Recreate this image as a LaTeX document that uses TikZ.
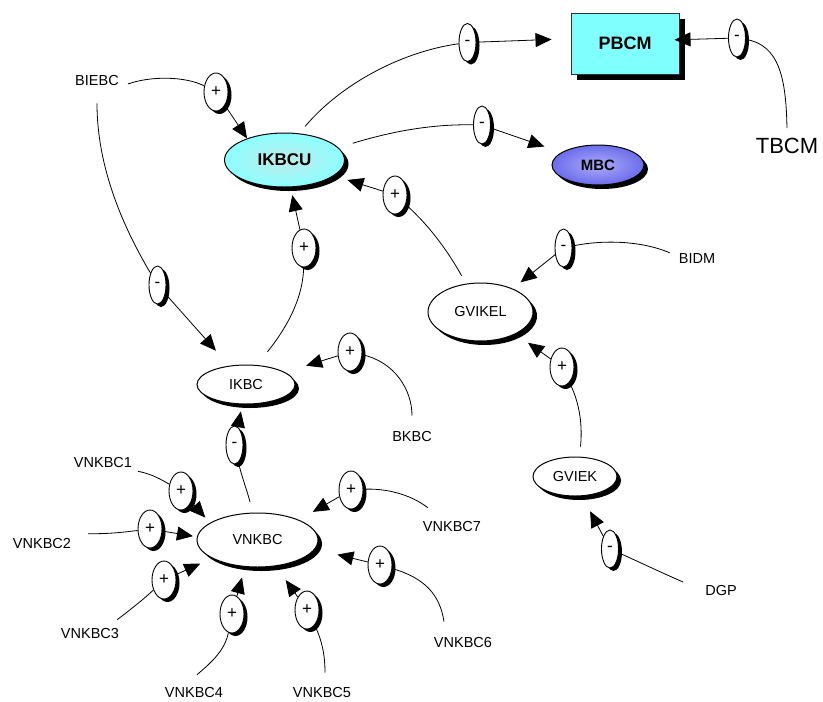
\documentclass[tikz,border=0pt]{standalone}
\usepackage{fontspec}
\setmainfont{Liberation Sans}
\usetikzlibrary{shapes.geometric,shadows,arrows.meta}

\definecolor{boxcyan}{RGB}{128,255,255}
\definecolor{cyanin}{RGB}{190,234,234}
\definecolor{cyanout}{RGB}{140,255,255}
\definecolor{bluein}{RGB}{172,172,248}
\definecolor{blueout}{RGB}{108,108,236}

\begin{document}
\begin{tikzpicture}[x=1pt,y=-1pt,
  lbl/.style={inner sep=3pt,font=\fontsize{14.5}{17}\selectfont},
  conn/.style={line width=0.8pt},
  arr/.style={line width=0.8pt,-{Triangle[length=16pt,width=14pt]}},
  sgn/.style={ellipse,draw,line width=0.9pt,fill=white,inner sep=0pt,
    minimum height=38pt,font=\fontsize{17}{19}\selectfont,
    drop shadow={shadow xshift=3.5pt,shadow yshift=-3pt,fill=black,opacity=1}},
  possign/.style={sgn,minimum width=24pt},
  negsign/.style={sgn,minimum width=17pt},
  varnode/.style={ellipse,draw,line width=1pt,fill=white,inner sep=0pt,
    font=\fontsize{14.5}{17}\selectfont,
    drop shadow={shadow xshift=4pt,shadow yshift=-4pt,fill=black,opacity=1}},
  box/.style={rectangle,draw=black!80,line width=1pt,fill=boxcyan,
    minimum width=108pt,minimum height=61pt,
    font=\fontsize{18}{21}\selectfont\bfseries,
    drop shadow={shadow xshift=6pt,shadow yshift=-6pt,fill=black,opacity=1}},
]
\fill[white] (0,0) rectangle (823,702);
\useasboundingbox (0,0) rectangle (823,702);

% variables
\node[box] (PBCM) at (625,43.5) {PBCM};
\node[varnode,minimum width=120pt,minimum height=54pt,shade,
  inner color=cyanin,outer color=cyanout,
  font=\fontsize{17}{20}\selectfont\bfseries] (IKBCU) at (284.5,160) {IKBCU};
\node[varnode,minimum width=92pt,minimum height=40pt,shade,
  inner color=bluein,outer color=blueout,
  font=\fontsize{15}{18}\selectfont\bfseries] (MBC) at (598,165) {MBC};
\node[varnode,minimum width=105pt,minimum height=58pt] (GVIKEL) at (480.5,312) {GVIKEL};
\node[varnode,minimum width=84pt,minimum height=39pt] (GVIEK) at (575,476.5) {GVIEK};
\node[varnode,minimum width=98pt,minimum height=39pt] (IKBC) at (246,384.5) {IKBC};
\node[varnode,minimum width=121pt,minimum height=54pt] (VNKBC) at (257.5,540) {VNKBC};

% exogenous labels
\node[lbl] (lBIEBC) at (97,81) {BIEBC};
\node[lbl] (lBKBC) at (412,437) {BKBC};
\node[lbl] (lVNKBC1) at (103,463) {VNKBC1};
\node[lbl] (lVNKBC2) at (42,544) {VNKBC2};
\node[lbl] (lVNKBC3) at (90,634) {VNKBC3};
\node[lbl] (lVNKBC4) at (194,693) {VNKBC4};
\node[lbl] (lVNKBC5) at (322,693) {VNKBC5};
\node[lbl] (lVNKBC6) at (463,643) {VNKBC6};
\node[lbl] (lVNKBC7) at (452,527) {VNKBC7};
\node[lbl] (lBIDM) at (697,259) {BIDM};
\node[lbl] (lDGP) at (721,591) {DGP};
\node[lbl,font=\fontsize{22}{26}\selectfont] (lTBCM) at (787,146) {TBCM};

% polarity markers
\node[negsign] (s1) at (467.5,42.5) {-};
\node[negsign] (s2) at (482,125) {-};
\node[negsign] (s3) at (737,38) {-};
\node[possign] (s4) at (216,92) {+};
\node[negsign] (s5) at (157.5,285) {-};
\node[possign] (s6) at (304,248) {+};
\node[possign] (s7) at (395,195) {+};
\node[possign] (s8) at (350,352) {+};
\node[negsign] (s9) at (234.5,445) {-};
\node[possign] (s10) at (181,491) {+};
\node[possign] (s11) at (150,529) {+};
\node[possign] (s12) at (164,580) {+};
\node[possign] (s13) at (232,614) {+};
\node[possign] (s14) at (307,610) {+};
\node[possign] (s15) at (380,565) {+};
\node[possign] (s16) at (351,490) {+};
\node[negsign] (s17) at (563.5,248) {-};
\node[possign] (s18) at (562,367) {+};
\node[negsign] (s19) at (610,549) {-};

% IKBCU -> PBCM
\draw[conn,shorten <=9pt] (IKBCU.61) .. controls (340,85) and (400,52) .. (s1);
\draw[arr,shorten >=19pt] (s1) -- (PBCM.175);
% IKBCU -> MBC
\draw[conn,shorten <=15pt] (IKBCU.13) .. controls (390,132) and (430,124) .. (s2);
\draw[arr,shorten >=18pt] (s2) -- (MBC);
% TBCM -> PBCM
\draw[conn] ([yshift=7pt]lTBCM.north) .. controls (786,80) and (780,45) .. (s3);
\draw[arr,shorten >=-5pt] (s3) -- (PBCM.4);
% BIEBC -> IKBCU
\draw[conn] ([xshift=6pt,yshift=-3pt]lBIEBC.east) .. controls (150,76) and (185,76) .. (s4);
\draw[arr] (s4) -- (IKBCU.150);
% BIEBC -> IKBC
\draw[conn] ([yshift=-14pt]lBIEBC.south) .. controls (97,170) and (125,230) .. (s5);
\draw[arr,shorten >=20pt] (s5) -- (IKBC);
% IKBC -> IKBCU
\draw[conn,shorten <=17pt] (IKBC.61) .. controls (285,330) and (303,300) .. (s6);
\draw[arr,shorten >=8pt] (s6) -- (IKBCU);
% GVIKEL -> IKBCU
\draw[conn,shorten <=9pt] (GVIKEL.117) .. controls (450,255) and (432,228) .. (s7);
\draw[arr,shorten >=14pt] (s7) -- (IKBCU);
% BKBC -> IKBC
\draw[conn] ([yshift=13pt]lBKBC.north) .. controls (412,390) and (395,362) .. (s8);
\draw[arr,shorten >=22pt] (s8) -- (IKBC);
% VNKBC -> IKBC
\draw[conn,shorten <=11pt] (VNKBC.100) .. controls (247,490) and (242,478) .. (s9);
\draw[arr,shorten >=7pt] (s9) -- (IKBC);
% inflows of VNKBC
\draw[conn] ([xshift=3pt]lVNKBC1.south east) .. controls (152,474) and (162,480) .. (s10);
\draw[arr,shorten >=7pt] (s10) -- (VNKBC.160);
\draw[conn] ([xshift=14pt,yshift=2pt]lVNKBC2.north east) .. controls (110,534) and (125,532) .. (s11);
\draw[arr,shorten >=4pt] (s11) -- (VNKBC.177);
\draw[conn] ([xshift=-5pt,yshift=6pt]lVNKBC3.north east) .. controls (130,610) and (145,598) .. (s12);
\draw[arr,shorten >=13pt] (s12) -- (VNKBC.202);
\draw[conn] ([xshift=3pt,yshift=10pt]lVNKBC4.north) .. controls (212,662) and (225,650) .. (s13);
\draw[arr,shorten >=11pt] (s13) -- (VNKBC.245);
\draw[conn] ([xshift=3pt,yshift=12pt]lVNKBC5.north) .. controls (325,655) and (322,640) .. (s14);
\draw[arr,shorten >=17pt] (s14) -- (VNKBC.305);
\draw[conn] ([xshift=-19pt,yshift=13pt]lVNKBC6.north) .. controls (440,595) and (425,578) .. (s15);
\draw[arr,shorten >=23pt] (s15) -- (VNKBC.351);
\draw[conn] ([xshift=8pt,yshift=11pt]lVNKBC7.north west) .. controls (410,494) and (385,488) .. (s16);
\draw[arr,shorten >=16pt] (s16) -- (VNKBC.26);
% BIDM -> GVIKEL
\draw[conn] ([xshift=-6pt,yshift=-2pt]lBIDM.north west) .. controls (640,240) and (600,240) .. (s17);
\draw[arr,shorten >=10pt] (s17) -- (GVIKEL.36);
% GVIEK -> GVIKEL
\draw[conn,shorten <=10pt] (GVIEK.77) .. controls (583,420) and (578,400) .. (s18);
\draw[arr,shorten >=15pt] (s18) -- (GVIKEL.328);
% DGP -> GVIEK
\draw[conn] ([xshift=-19pt,yshift=9pt]lDGP.west) .. controls (660,572) and (635,560) .. (s19);
\draw[arr,shorten >=17pt] (s19) -- (GVIEK.290);
\end{tikzpicture}
\end{document}
